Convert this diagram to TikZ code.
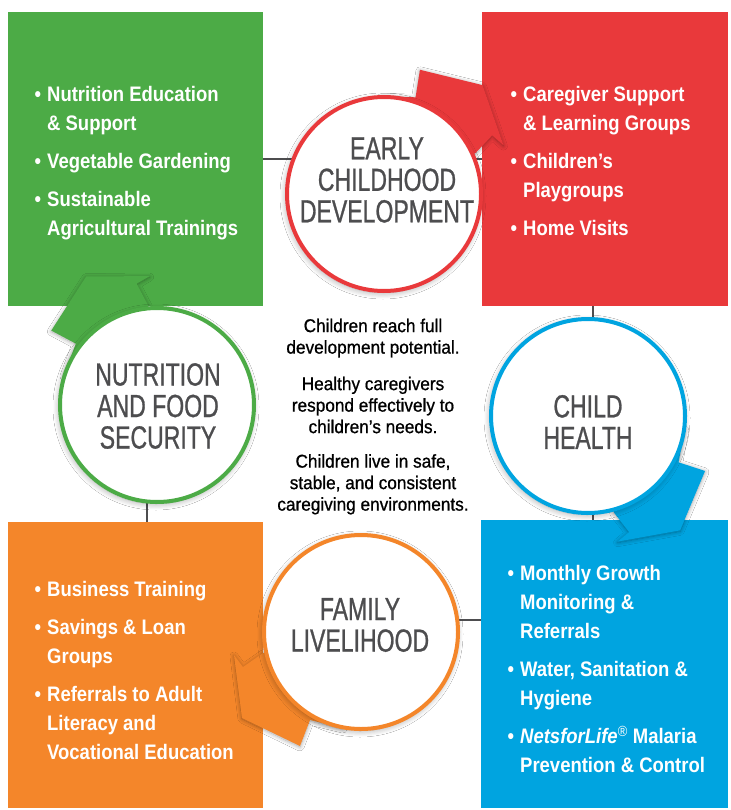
\documentclass[tikz,border=0pt]{standalone}
\usepackage{fontspec}
\usepackage{tikz}
\usepackage{xcolor}
\usetikzlibrary{positioning, shadows.blur}
\setmainfont{Liberation Sans}
\newfontfamily\boxfont[FakeStretch=0.88]{Liberation Sans}
\newfontfamily\ringfont[FakeStretch=0.72, FakeBold=0.8]{Liberation Sans}
\newfontfamily\goalfont[FakeStretch=0.93, FakeBold=0.8]{Liberation Sans}
\definecolor{chartgreen}{HTML}{4CAB46}
\definecolor{chartred}{HTML}{E9393B}
\definecolor{chartorange}{HTML}{F4862A}
\definecolor{chartblue}{HTML}{00A4E0}
\definecolor{chartgray}{HTML}{4D4D4F}
\newcommand{\bul}{\llap{\textbullet\hspace{6pt}}}

\begin{document}
\begin{tikzpicture}[x=1pt, y=-1pt,
    box/.style={rectangle, inner sep=0pt},
    ring/.style={circle, fill=white, line width=4pt, minimum size=194pt, inner sep=0pt,
      blur shadow={shadow xshift=-1pt, shadow yshift=-2pt, shadow blur radius=6pt, shadow blur steps=12, shadow opacity=35}},
    ringtext/.style={inner sep=0pt, text=chartgray, align=center, font=\ringfont\fontsize{32}{31.5}\selectfont},
    items/.style={anchor=north west, inner sep=0pt, text=white, align=left, font=\boxfont\bfseries\fontsize{21}{29}\selectfont},
    goal/.style={anchor=north, inner sep=0pt, text=black, align=center, font=\goalfont\fontsize{18.5}{21.5}\selectfont},
    arrowshade/.style={blur shadow={shadow xshift=0pt, shadow yshift=-1pt, shadow blur radius=4pt, shadow blur steps=10, shadow opacity=35}},
    link/.style={draw=chartgray, line width=1.3pt}]
      \path[fill=white, use as bounding box] (0,0) rectangle (730,810);

      \node[box, fill=chartgreen, minimum width=255, minimum height=294] (nutribox) at (135.5,159) {};
      \node[box, fill=chartred, minimum width=246, minimum height=294] (ecdbox) at (605,159) {};
      \node[box, fill=chartorange, minimum width=255, minimum height=286] (familybox) at (135.5,665) {};
      \node[box, fill=chartblue, minimum width=247, minimum height=288] (healthbox) at (604.5,664) {};

      \coordinate (vleft) at (147,0);
      \coordinate (vright) at (593,0);
      \coordinate (hlow) at (0,620);
      \draw[link] (nutribox.east) -- (ecdbox.west);
      \draw[link] (ecdbox.south -| vright) -- (healthbox.north -| vright);
      \draw[link] (nutribox.south -| vleft) -- (familybox.north -| vleft);
      \draw[link] (familybox.east |- hlow) -- (healthbox.west |- hlow);

      \coordinate (ecd) at (384,194);
      \coordinate (nutri) at (157,405);
      \coordinate (health) at (588,416);
      \coordinate (family) at (361,632);

      \foreach \ring/\col/\ang in {family/chartorange/0, health/chartblue/93, ecd/chartred/192, nutri/chartgreen/263}
      \fill[\col, arrowshade, shift={(\ring)}, rotate=\ang] (-98,21) -- (-118,35) -- (-127,23)
      -- (-119,86) -- (-61,114) -- (-51,88) -- (-18,96) -- (0,0) -- cycle;

      \node[ring, draw=chartred] (ecdring) at (ecd) {};
      \node[ring, draw=chartgreen] (nutriring) at (nutri) {};
      \node[ring, draw=chartblue] (healthring) at (health) {};
      \node[ring, draw=chartorange] (familyring) at (family) {};

      \node[ringtext] (ecdtext) at (387,180) {EARLY\\CHILDHOOD\\DEVELOPMENT};
      \node[ringtext] (nutritext) at (158,406) {NUTRITION\\AND FOOD\\SECURITY};
      \node[ringtext] (healthtext) at (588,422) {CHILD\\HEALTH};
      \node[ringtext] (familytext) at (360,625) {FAMILY\\LIVELIHOOD};

      \node[items] (nutrilist) at (47,86.5) {\bul Nutrition Education\\\& Support\\[9pt]
        \bul Vegetable Gardening\\[9pt]\bul Sustainable\\Agricultural Trainings};
      \node[items] (ecdlist) at (523,86.5) {\bul Caregiver Support\\\& Learning Groups\\[9pt]
        \bul Children’s\\Playgroups\\[9pt]\bul Home Visits};
      \node[items] (familylist) at (47,581.5) {\bul Business Training\\[9pt]\bul Savings \& Loan\\Groups\\[9pt]
        \bul Referrals to Adult\\Literacy and\\Vocational Education};
      \node[items] (healthlist) at (520,565.5) {\bul Monthly Growth\\Monitoring \&\\Referrals\\[9pt]
        \bul Water, Sanitation \&\\Hygiene\\[9pt]
        \bul \textit{NetsforLife}\textsuperscript{\mdseries ®} Malaria\\Prevention \& Control};

      \node[goal] (goals) at (373,318.5) {Children reach full\\development potential.\\[15pt]
        Healthy caregivers\\respond effectively to\\children’s needs.\\[13pt]
        Children live in safe,\\stable, and consistent\\caregiving environments.};
    \end{tikzpicture}
\end{document}
